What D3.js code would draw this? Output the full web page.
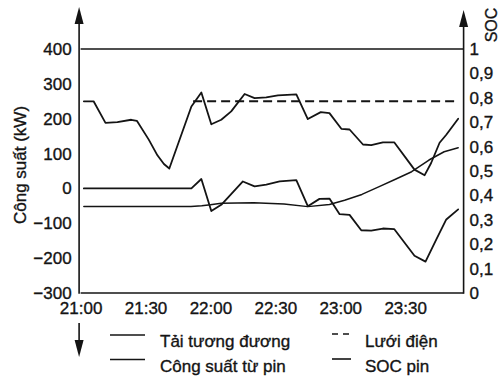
<!DOCTYPE html>
<html>
<head>
<meta charset="utf-8">
<script src="https://cdn.jsdelivr.net/npm/d3@7"></script>
<style>
  html, body { margin: 0; padding: 0; background: #fff; }
  svg { display: block; font-family: "Liberation Sans", Arial, sans-serif; }
  text { fill: #141414; stroke: #141414; stroke-width: 0.35px; }
</style>
</head>
<body>
<svg id="chart" width="501" height="380"></svg>
<script>
// Time is in minutes after 21:00.
const timeTicks = [0, 30, 60, 90, 120, 150];
const timeTickLabels = ["21:00", "21:30", "22:00", "22:30", "23:00", "23:30"];
const powerTicks = [-300, -200, -100, 0, 100, 200, 300, 400];
const socTicks = [0, 0.1, 0.2, 0.3, 0.4, 0.5, 0.6, 0.7, 0.8, 0.9, 1];

// Tải tương đương (kW)
const loadTime  = [1.5, 6, 11.5, 17, 23.4, 26, 31.5, 35.5, 38.5, 41, 51.2, 55.8, 60.4, 65, 69.6, 75.8, 80.4, 85.8, 91.2, 99.7, 105, 111, 115, 120.5, 124.3, 130.5, 134.3, 139.7, 145, 154.3, 159, 162, 165.9, 169, 174.5];
const loadPower = [250, 250, 188, 190, 197, 194, 140, 95, 70, 57, 235, 275, 184, 197, 221, 271, 259, 261, 267, 270, 199, 219, 216, 171, 169, 126, 124, 132, 132, 54, 38, 73, 131, 154, 200];

// Lưới điện (kW)
const gridTime  = [52, 174];
const gridPower = [250, 250];

// Công suất từ pin (kW)
const battTime  = [1.5, 51.2, 55.8, 60.4, 65, 75, 80.4, 85.8, 92, 99.7, 105, 110.4, 115, 119.7, 124.3, 129.7, 134.3, 139.7, 145, 154.3, 159.4, 164.4, 169, 174.5];
const battPower = [0, 0, 27, -65, -47, 20, 6, 11, 20, 24, -51, -30, -29, -74, -76, -120, -121, -115, -117, -193, -210, -146, -89, -60];

// SOC pin
const socTime  = [1.5, 51, 56, 60, 65, 80, 94, 105, 115, 122, 130, 138, 145.5, 153, 161, 168, 174.5];
const socValue = [0.355, 0.355, 0.358, 0.362, 0.368, 0.37, 0.365, 0.354, 0.363, 0.38, 0.404, 0.436, 0.466, 0.497, 0.545, 0.579, 0.595];

const legendLabels = ["Tải tương đương", "Lưới điện", "Công suất từ pin", "SOC pin"];

const svg = d3.select("#chart");
const ink = "#141414";
const fontSize = 17;

const plotLeft = 80.6, plotRight = 463.6, plotTop = 49, plotBottom = 293;

const x = d3.scaleLinear().domain([0, 177]).range([plotLeft, plotRight]);
const yP = d3.scaleLinear().domain([-300, 400]).range([plotBottom, plotTop]);
const yS = d3.scaleLinear().domain([0, 1]).range([plotBottom, plotTop]);

const commaFmt = d3.formatLocale({ decimal: ",", thousands: ".", grouping: [3], currency: ["", ""], minus: "\u2212" });
const socFmt = v => commaFmt.format("~g")(v);

// frame: top line at 400 kW and bottom baseline
svg.append("line").attr("x1", plotLeft).attr("x2", plotRight).attr("y1", yP(400)).attr("y2", yP(400))
  .attr("stroke", ink).attr("stroke-width", 1.4);
svg.append("line").attr("x1", plotLeft).attr("x2", plotRight).attr("y1", plotBottom).attr("y2", plotBottom)
  .attr("stroke", ink).attr("stroke-width", 1.6);

// vertical axes with arrowheads
function arrowAxis(ax, yTip) {
  svg.append("line").attr("x1", ax).attr("x2", ax).attr("y1", plotBottom + 0.8).attr("y2", yTip + 10)
    .attr("stroke", ink).attr("stroke-width", 1.6);
  svg.append("path")
    .attr("d", `M${ax},${yTip} L${ax - 4.5},${yTip + 17} L${ax + 4.5},${yTip + 17} Z`)
    .attr("fill", ink);
}
arrowAxis(plotLeft - 1.5, 7);
arrowAxis(plotRight, 10);

// downward arrow under the power axis
svg.append("line").attr("x1", plotLeft - 1.5).attr("x2", plotLeft - 1.5).attr("y1", 323).attr("y2", 345)
  .attr("stroke", ink).attr("stroke-width", 1.6);
svg.append("path")
  .attr("d", `M${plotLeft - 1.5},357 L${plotLeft - 6},340 L${plotLeft + 3},340 Z`).attr("fill", ink);

// left axis: power (kW)
const gL = svg.append("g").attr("transform", `translate(${plotLeft},0)`)
  .call(d3.axisLeft(yP).tickValues(powerTicks).tickSize(0).tickPadding(9)
    .tickFormat(d3.format("d")));
gL.select(".domain").remove();
gL.selectAll("text").attr("font-size", fontSize).style("font-family", "inherit").attr("fill", ink);

// right axis: SOC
const gR = svg.append("g").attr("transform", `translate(${plotRight},0)`)
  .call(d3.axisRight(yS).tickValues(socTicks).tickSize(0).tickPadding(6).tickFormat(socFmt));
gR.select(".domain").remove();
gR.selectAll("text").attr("font-size", fontSize).style("font-family", "inherit").attr("fill", ink);

// bottom axis: time
const gB = svg.append("g").attr("transform", `translate(0,${plotBottom})`)
  .call(d3.axisBottom(x).tickValues(timeTicks).tickSize(0).tickPadding(9)
    .tickFormat((d, i) => timeTickLabels[i]));
gB.select(".domain").remove();
gB.selectAll("text").attr("font-size", fontSize).style("font-family", "inherit").attr("fill", ink);

// axis titles
svg.append("text").attr("transform", "translate(26,165) rotate(-90)")
  .attr("text-anchor", "middle").attr("font-size", fontSize).text("Công suất (kW)");
svg.append("text").attr("transform", "translate(496.5,25) rotate(-90)")
  .attr("text-anchor", "middle").attr("font-size", 16).text("SOC");

// series
const linePower = d3.line().x(d => x(d[0])).y(d => yP(d[1]));
const lineSoc = d3.line().x(d => x(d[0])).y(d => yS(d[1]));

const loadData = loadTime.map((t, i) => [t, loadPower[i]]);
const gridData = gridTime.map((t, i) => [t, gridPower[i]]);
const battData = battTime.map((t, i) => [t, battPower[i]]);
const socData = socTime.map((t, i) => [t, socValue[i]]);

const plot = svg.append("g").attr("fill", "none").attr("stroke", ink)
  .attr("stroke-linejoin", "round").attr("stroke-linecap", "round");

plot.append("path").datum(socData).attr("d", lineSoc).attr("stroke-width", 1.5);
plot.append("path").datum(gridData).attr("d", linePower).attr("stroke-width", 2)
  .attr("stroke-dasharray", "9,5").attr("stroke-linecap", "butt");
plot.append("path").datum(battData).attr("d", linePower).attr("stroke-width", 1.8);
plot.append("path").datum(loadData).attr("d", linePower).attr("stroke-width", 1.8);

// legend
const legend = svg.append("g");
const legendItems = [
  { label: legendLabels[0], lx1: 110, lx2: 145, ly: 335, tx: 160, ty: 341, dash: null },
  { label: legendLabels[1], lx1: 332, lx2: 350, ly: 334, tx: 365, ty: 341, dash: "6,5" },
  { label: legendLabels[2], lx1: 110, lx2: 145, ly: 359.5, tx: 160, ty: 366, dash: null },
  { label: legendLabels[3], lx1: 332, lx2: 351, ly: 359, tx: 365, ty: 366, dash: null }
];
legendItems.forEach(it => {
  const ln = legend.append("line").attr("x1", it.lx1).attr("x2", it.lx2)
    .attr("y1", it.ly).attr("y2", it.ly).attr("stroke", ink).attr("stroke-width", 1.6);
  if (it.dash) ln.attr("stroke-dasharray", it.dash);
  legend.append("text").attr("x", it.tx).attr("y", it.ty).attr("dy", "0.35em")
    .attr("font-size", fontSize).text(it.label);
});
</script>
</body>
</html>
